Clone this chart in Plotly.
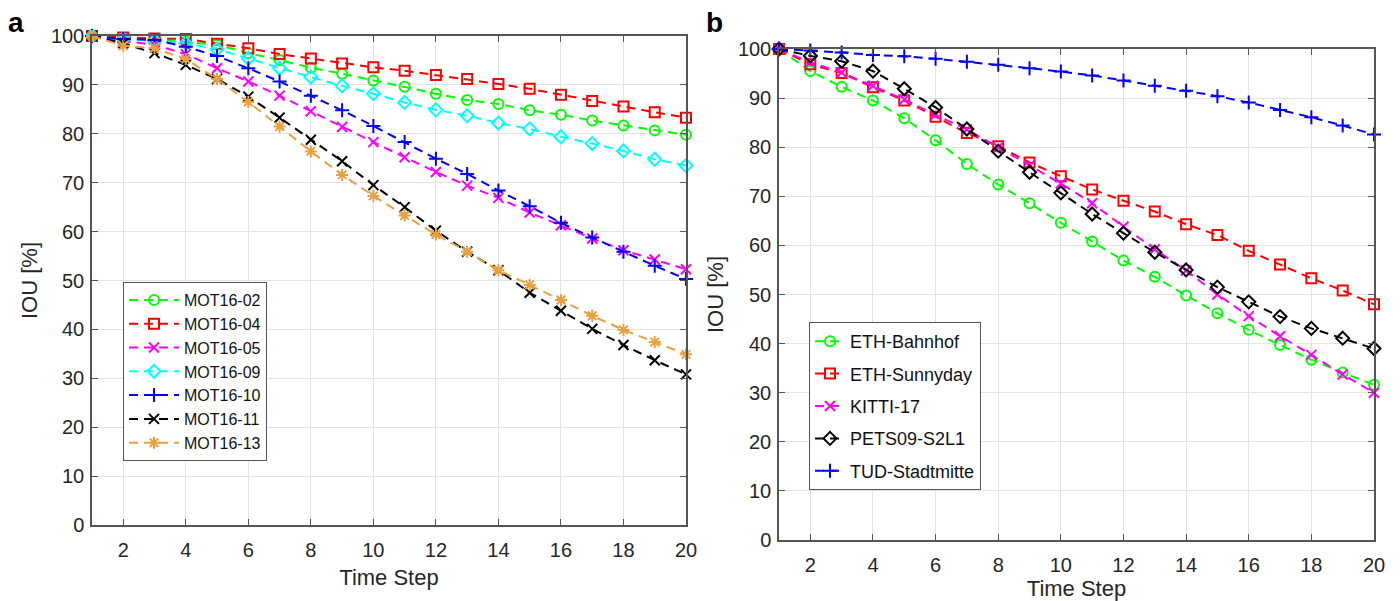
import plotly.graph_objects as go

steps = list(range(1, 21))

# Panel a (MOT16)
a_names = ["MOT16-02", "MOT16-04", "MOT16-05", "MOT16-09", "MOT16-10", "MOT16-11", "MOT16-13"]
mot16_02 = [100, 99.5, 99.2, 98.8, 98.2, 96.5, 95.1, 93.5, 92.3, 90.9, 89.6, 88.2, 86.9, 86.1, 84.8, 83.9, 82.7, 81.7, 80.7, 79.8]
mot16_04 = [100, 99.7, 99.5, 99.4, 98.4, 97.5, 96.3, 95.4, 94.4, 93.6, 92.9, 92.0, 91.2, 90.2, 89.2, 88.0, 86.7, 85.6, 84.4, 83.3]
mot16_05 = [100, 99.0, 98.2, 96.3, 93.4, 90.7, 87.8, 84.6, 81.4, 78.3, 75.2, 72.2, 69.4, 66.9, 63.9, 61.3, 58.6, 56.2, 54.3, 52.3]
mot16_09 = [100, 99.4, 99.0, 98.5, 97.3, 95.4, 93.4, 91.6, 89.8, 88.2, 86.4, 84.9, 83.7, 82.2, 81.0, 79.4, 78.0, 76.5, 74.8, 73.5]
mot16_10 = [100, 99.4, 99.2, 97.8, 95.9, 93.4, 90.7, 87.8, 84.8, 81.6, 78.3, 74.9, 71.8, 68.4, 65.2, 61.8, 58.8, 55.9, 53.0, 50.3]
mot16_11 = [100, 98.5, 96.5, 94.1, 91.2, 87.6, 83.3, 78.8, 74.4, 69.5, 65.0, 60.2, 55.9, 52.1, 47.5, 43.8, 40.1, 36.8, 33.7, 30.8]
mot16_13 = [100, 98.0, 97.5, 95.3, 91.2, 86.5, 81.5, 76.4, 71.6, 67.3, 63.3, 59.4, 55.9, 52.1, 49.1, 46.0, 42.8, 39.9, 37.4, 34.9]
a_values = [mot16_02, mot16_04, mot16_05, mot16_09, mot16_10, mot16_11, mot16_13]

# Panel b
b_names = ["ETH-Bahnhof", "ETH-Sunnyday", "KITTI-17", "PETS09-S2L1", "TUD-Stadtmitte"]
eth_bahnhof = [100, 95.5, 92.3, 89.5, 85.9, 81.4, 76.6, 72.4, 68.6, 64.6, 60.8, 56.9, 53.6, 49.8, 46.2, 42.8, 39.7, 36.7, 34.1, 31.6]
eth_sunnyday = [100, 96.9, 95.1, 92.2, 89.5, 86.2, 82.9, 80.2, 76.9, 74.1, 71.4, 69.1, 66.9, 64.3, 62.1, 58.9, 56.1, 53.3, 50.8, 48.0]
kitti_17 = [100, 97.3, 95.2, 92.5, 89.7, 86.6, 83.6, 80.0, 76.3, 72.6, 68.6, 63.8, 59.2, 54.9, 50.0, 45.6, 41.5, 37.7, 33.7, 30.0]
pets09 = [100, 98.6, 97.5, 95.5, 91.9, 88.1, 83.7, 79.2, 74.9, 70.7, 66.4, 62.5, 58.6, 55.0, 51.5, 48.5, 45.5, 43.1, 41.1, 39.0]
tud = [100, 99.7, 99.3, 98.8, 98.5, 98.0, 97.4, 96.8, 96.1, 95.4, 94.6, 93.6, 92.5, 91.5, 90.4, 89.1, 87.6, 86.1, 84.4, 82.6]
b_values = [eth_bahnhof, eth_sunnyday, kitti_17, pets09, tud]

x_ticks = list(range(2, 21, 2))
y_ticks = list(range(0, 101, 10))

a_colors = ["#00FF00", "#FF0000", "#FF00FF", "#00FFFF", "#0000FF", "#000000", "#EBA040"]
a_symbols = ["circle-open", "square-open", "x-thin-open", "diamond-open", "cross-thin-open", "x-thin-open", "asterisk-open"]
b_colors = ["#00FF00", "#FF0000", "#FF00FF", "#000000", "#0000FF"]
b_symbols = ["circle-open", "square-open", "x-thin-open", "diamond-open", "cross-thin-open"]

FONT = "Liberation Sans Narrow, Liberation Sans, Arial, sans-serif"
LFONT = "Liberation Sans, Arial, sans-serif"
O = 8  # page body margin
W, H = 1392, 593


def px(x):
    return (x - O) / W


def py(y):
    return 1 - (y - O) / H


fig = go.Figure()
for name, vals, col, sym in zip(a_names, a_values, a_colors, a_symbols):
    fig.add_trace(go.Scatter(
        x=steps, y=vals, name=name, mode="lines+markers",
        line=dict(color=col, width=2, dash="9px,6px"),
        marker=dict(symbol=sym, size=10, color=col, line=dict(color=col, width=2)),
        cliponaxis=False, xaxis="x", yaxis="y", legend="legend"))
for i, (name, vals, col, sym) in enumerate(zip(b_names, b_values, b_colors, b_symbols)):
    fig.add_trace(go.Scatter(
        x=steps, y=vals, name=name, mode="lines+markers",
        line=dict(color=col, width=2, dash="9px,6px"),
        marker=dict(symbol=sym, size=10, color=col, line=dict(color=col, width=2)),
        cliponaxis=False, xaxis="x2", yaxis="y2", legend="legend2", legendgroup="g%d" % i))


def ax(domain, title, anchor, tickvals, rng, standoff, lblstand):
    return dict(domain=domain, anchor=anchor, range=rng, tickvals=tickvals,
                automargin=False,
                showgrid=True, gridcolor="#e3e3e3", gridwidth=1,
                showline=True, linecolor="#555555", linewidth=1.5, mirror="ticks",
                ticks="inside", ticklen=6, tickcolor="#555555",
                ticklabelstandoff=lblstand,
                tickfont=dict(family=FONT, size=20, color="#262626"),
                title=dict(text=title, font=dict(family=FONT, size=22, color="#262626"), standoff=standoff),
                zeroline=False, fixedrange=True)


fig.update_layout(
    width=W, height=H, paper_bgcolor="white", plot_bgcolor="white",
    margin=dict(l=0, r=0, t=0, b=0, autoexpand=False), font=dict(family=FONT),
    xaxis=ax([px(92), px(686)], "Time Step", "y", x_ticks, [1, 20], 10, 6),
    yaxis=ax([py(525), py(36)], "IOU [%]", "x", y_ticks, [0, 100], 7, 2),
    xaxis2=ax([px(779), px(1374)], "Time Step", "y2", x_ticks, [1, 20], 10, 6),
    yaxis2=ax([py(540), py(49)], "IOU [%]", "x2", y_ticks, [0, 100], 8, 2),
    legend=dict(x=px(123), y=py(282), xanchor="left", yanchor="top",
                bgcolor="white", bordercolor="#555555", borderwidth=1,
                font=dict(family=LFONT, size=16, color="#111111"), itemwidth=50,
                tracegroupgap=0),
    legend2=dict(x=px(809), y=py(322), xanchor="left", yanchor="top",
                 bgcolor="white", bordercolor="#555555", borderwidth=1,
                 font=dict(family=LFONT, size=18, color="#111111"), itemwidth=30,
                 tracegroupgap=6),
    showlegend=True,
)

fig.add_annotation(text="<b>a</b>", x=px(6), y=py(22), xref="paper", yref="paper",
                   xanchor="left", yanchor="middle", showarrow=False,
                   font=dict(family=LFONT, size=28, color="black"))
fig.add_annotation(text="<b>b</b>", x=px(704), y=py(22), xref="paper", yref="paper",
                   xanchor="left", yanchor="middle", showarrow=False,
                   font=dict(family=LFONT, size=28, color="black"))

fig.write_html("out.html")
